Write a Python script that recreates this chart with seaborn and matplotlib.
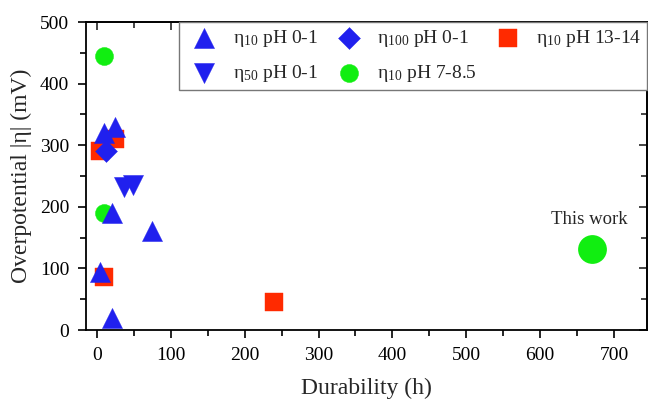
import matplotlib
matplotlib.use("Agg")
import matplotlib.pyplot as plt
import seaborn as sns
import pandas as pd
from matplotlib.ticker import MultipleLocator

# data
groups = ["η$_{10}$ pH 0-1", "η$_{50}$ pH 0-1", "η$_{100}$ pH 0-1",
          "η$_{10}$ pH 7-8.5", "η$_{10}$ pH 13-14"]
durability = [
    [4, 20, 9, 24, 20, 75],      # eta10 pH 0-1
    [36, 48],                    # eta50 pH 0-1
    [12],                        # eta100 pH 0-1
    [10, 9],                     # eta10 pH 7-8.5
    [4, 24, 10, 240],            # eta10 pH 13-14
]
overpotential = [
    [95, 20, 320, 330, 190, 160],
    [232, 236],
    [290],
    [445, 190],
    [290, 310, 86, 45],
]
this_work_x = [670]
this_work_y = [132]
this_work_label = "This work"

markers = ["^", "v", "D", "o", "s"]
colors = ["#2020ee", "#2020ee", "#2020ee", "#11ee11", "#ff2a00"]
sizes = [210, 210, 125, 170, 150]

sns.set_theme(style="ticks")
plt.rcParams["font.family"] = ["Liberation Serif", "DejaVu Serif"]
plt.rcParams["mathtext.fontset"] = "custom"
plt.rcParams["mathtext.rm"] = "Liberation Serif"
plt.rcParams["mathtext.it"] = "Liberation Serif:italic"
plt.rcParams["mathtext.default"] = "regular"

fig = plt.figure(figsize=(6.48, 4.01), dpi=100)
ax = fig.add_axes([0.1327, 0.177, 0.866, 0.768])

# draw the group order so overlaps look like the reference
draw_order = [4, 3, 0, 1, 2]
for i in draw_order:
    df = pd.DataFrame({"x": durability[i], "y": overpotential[i]})
    sns.scatterplot(data=df, x="x", y="y", ax=ax, marker=markers[i],
                    color=colors[i], s=sizes[i], linewidth=0.3,
                    edgecolor=colors[i], label=groups[i], zorder=3)

tw = pd.DataFrame({"x": this_work_x, "y": this_work_y})
sns.scatterplot(data=tw, x="x", y="y", ax=ax, marker="o", color="#11ee11",
                s=430, linewidth=0, legend=False, zorder=3)
ax.annotate(this_work_label, (this_work_x[0], this_work_y[0]),
            xytext=(-2, 15), textcoords="offset points", ha="center",
            va="bottom", fontsize=13.5)

ax.set_xlim(-15, 745)
ax.set_ylim(0, 500)
ax.xaxis.set_major_locator(MultipleLocator(100))
ax.xaxis.set_minor_locator(MultipleLocator(50))
ax.yaxis.set_major_locator(MultipleLocator(100))
ax.yaxis.set_minor_locator(MultipleLocator(50))
ax.set_xlabel("Durability (h)", fontsize=17, labelpad=10)
ax.set_ylabel("Overpotential |η| (mV)", fontsize=17, labelpad=6)

for sp in ax.spines.values():
    sp.set_visible(True)
    sp.set_linewidth(1.3)
    sp.set_color("black")
ax.tick_params(which="both", direction="out", width=1.2, labelsize=14,
               colors="black", top=False, right=False)
ax.tick_params(which="major", length=6, pad=6)
ax.tick_params(which="minor", length=4)

# inward ticks on the mirrored axes
sec_x = ax.secondary_xaxis("top")
sec_y = ax.secondary_yaxis("right")
sec_x.xaxis.set_major_locator(MultipleLocator(100))
sec_x.xaxis.set_minor_locator(MultipleLocator(50))
sec_y.yaxis.set_major_locator(MultipleLocator(100))
sec_y.yaxis.set_minor_locator(MultipleLocator(50))
for twin in (sec_x, sec_y):
    twin.tick_params(which="both", direction="in", width=1.2,
                     labelleft=False, labelright=False,
                     labeltop=False, labelbottom=False)
    twin.tick_params(which="major", length=6)
    twin.tick_params(which="minor", length=4)
    for sp in twin.spines.values():
        sp.set_linewidth(1.3)

handles, labels = ax.get_legend_handles_labels()
order = [labels.index(g) for g in groups]
leg = ax.legend([handles[k] for k in order], [labels[k] for k in order],
                ncol=3, loc="upper right", bbox_to_anchor=(1, 1),
                borderaxespad=0, fontsize=14, frameon=True, fancybox=False,
                framealpha=1, edgecolor="#777777", labelspacing=0.75,
                handlelength=2.0, handletextpad=0.45, columnspacing=0.6,
                borderpad=0.3)
leg.get_frame().set_linewidth(1.0)

fig.savefig("out.png", dpi=100)
